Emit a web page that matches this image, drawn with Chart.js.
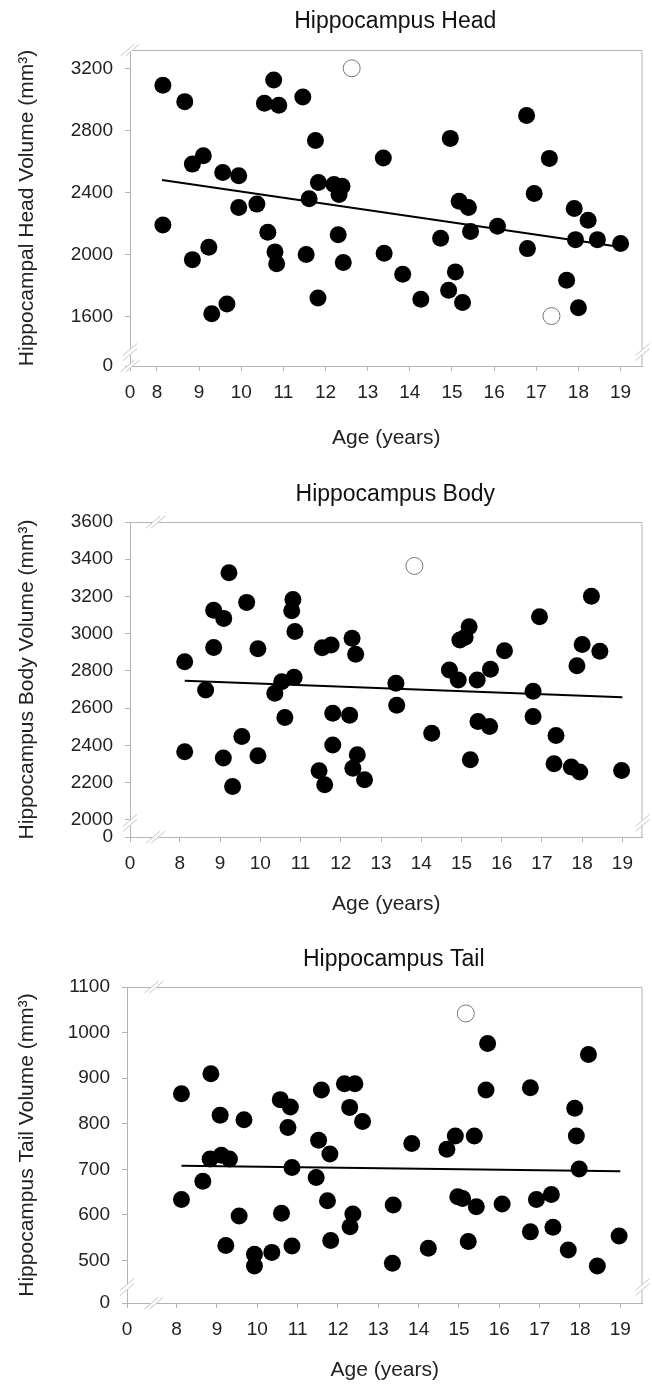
<!DOCTYPE html>
<html>
<head>
<meta charset="utf-8">
<script src="https://cdn.jsdelivr.net/npm/chart.js@4.4.1/dist/chart.umd.min.js"></script>
<style>
  body { margin: 0; background: #fff; }
  canvas { display: block; }
</style>
</head>
<body>
<canvas id="head" width="652" height="460"></canvas>
<canvas id="body" width="652" height="460"></canvas>
<canvas id="tail" width="652" height="464"></canvas>
<script>
// ages shown on the x axis (a "0" is added in front of them at the axis break)
var ageTicks = [8, 9, 10, 11, 12, 13, 14, 15, 16, 17, 18, 19]

// Hippocampus head
var headAge = [8.14, 8.14, 8.66, 8.84, 9.10, 8.84, 9.23, 9.30, 9.56, 9.66, 9.94, 9.94, 10.37, 10.63, 10.55, 10.89, 10.77, 10.80, 10.84,
  11.46, 11.54, 11.61, 11.76, 11.83, 11.82, 12.20, 12.32, 12.39, 12.30, 12.42, 13.37, 13.39, 13.83, 14.26, 14.73, 14.96, 14.92,
  15.08, 15.25, 15.17, 15.39, 15.44, 16.08, 16.77, 16.79, 16.95, 17.31, 17.72, 17.90, 17.93, 18.00, 18.23, 18.45, 19.00]
var headVol = [3090, 2190, 2985, 2582, 2636, 1966, 2046, 1617, 2528, 1680, 2507, 2302, 2324, 2143, 2974, 2961, 3125, 2016, 1940,
  3015, 1999, 2358, 2735, 2464, 1719, 2451, 2386, 2440, 2126, 1947, 2621, 2007, 1872, 1710, 2104, 2748, 1768,
  1887, 1689, 2343, 2302, 2147, 2182, 2896, 2037, 2393, 2619, 1833, 2296, 2095, 1656, 2220, 2095, 2070]
var headOutAge = [12.62, 17.36]
var headOutVol = [3200, 1602]
var headTrendAge = [8.12, 19.0]
var headTrendVol = [2479, 2048]
var headTicks = [1600, 2000, 2400, 2800, 3200]

// Hippocampus body
var bodyAge = [8.12, 8.12, 8.64, 8.84, 8.84, 9.09, 9.22, 9.08, 9.31, 9.54, 9.66, 9.94, 9.94, 10.36, 10.53, 10.61, 10.81, 10.78, 10.86, 10.84,
  11.46, 11.60, 11.54, 11.76, 11.80, 11.80, 12.22, 12.28, 12.37, 12.30, 12.41, 12.59, 13.37, 13.39, 14.26, 14.70, 14.92, 14.96,
  15.09, 15.19, 15.22, 15.39, 15.41, 15.70, 15.72, 16.07, 16.78, 16.78, 16.94, 17.35, 17.30, 17.73, 17.94, 17.87, 18.00, 18.23, 18.44, 18.98]
var bodyVol = [2849, 2365, 2697, 3126, 2926, 3082, 3327, 2331, 2179, 2447, 3168, 2919, 2344, 2680, 2742, 2549, 3184, 3123, 3012, 2765,
  2263, 2188, 2924, 2939, 2572, 2401, 2562, 2975, 2889, 2277, 2349, 2215, 2733, 2615, 2465, 2805, 2751, 2966,
  2980, 3037, 2322, 2751, 2528, 2501, 2808, 2908, 2690, 2554, 3091, 2453, 2301, 2283, 2256, 2828, 2942, 3201, 2905, 2265]
var bodyOutAge = [13.83]
var bodyOutVol = [3364]
var bodyTrendAge = [8.12, 19.0]
var bodyTrendVol = [2747, 2658]
var bodyTicks = [2000, 2200, 2400, 2600, 2800, 3000, 3200, 3400, 3600]

// Hippocampus tail
var tailAge = [8.12, 8.12, 8.65, 8.85, 8.83, 9.08, 9.11, 9.31, 9.22, 9.55, 9.67, 9.93, 9.93, 10.36, 10.57, 10.82, 10.76, 10.60, 10.86, 10.86,
  11.46, 11.52, 11.59, 11.80, 11.74, 11.82, 12.16, 12.42, 12.29, 12.37, 12.30, 12.61, 13.37, 13.35, 13.83, 14.24, 14.70, 14.91,
  14.97, 15.09, 15.38, 15.43, 15.23, 15.71, 15.67, 16.07, 16.77, 16.77, 16.92, 17.29, 17.33, 17.71, 17.87, 17.91, 17.98, 18.21, 18.43, 18.97]
var tailVol = [866, 634, 674, 910, 723, 819, 731, 723, 533, 598, 809, 514, 488, 518, 853, 837, 792, 604, 704, 532,
  682, 764, 874, 734, 631, 544, 888, 888, 836, 602, 574, 805, 622, 494, 757, 527, 744, 773,
  640, 636, 773, 618, 542, 976, 874, 624, 879, 563, 634, 645, 573, 523, 834, 773, 701, 952, 488, 554]
var tailOutAge = [15.17]
var tailOutVol = [1042]
var tailTrendAge = [8.12, 19.0]
var tailTrendVol = [708, 696]
var tailTicks = [500, 600, 700, 800, 900, 1000, 1100]

Chart.defaults.font.family = "'Liberation Sans', Arial, sans-serif"
Chart.defaults.color = '#222'

var axisGrey = '#b4b4b4'

// title over the plot, top/right frame, and the little // marks of the broken axes
var framePlugin = {
  id: 'frame',
  afterDraw(chart, args, opts) {
    var ctx = chart.ctx
    var a = chart.chartArea
    var xb = chart.scales.x.getPixelForValue(opts.xBreak)
    var yb = chart.scales.y.getPixelForValue(opts.yBreak)
    ctx.save()

    ctx.fillStyle = '#111'
    ctx.font = "23px 'Liberation Sans', Arial, sans-serif"
    ctx.textAlign = 'center'
    ctx.textBaseline = 'middle'
    ctx.fillText(opts.title, (a.left + a.right) / 2 + 9, opts.titleY)

    ctx.strokeStyle = axisGrey
    ctx.lineWidth = 1
    ctx.beginPath()
    ctx.moveTo(a.left, a.top + 0.5)
    ctx.lineTo(a.right - 0.5, a.top + 0.5)
    ctx.lineTo(a.right - 0.5, a.bottom)
    ctx.stroke()

    var marks = [[a.left, yb, 'v'], [a.right, yb, 'v'], [xb, a.top, 'h'], [xb, a.bottom, 'h']]
    marks.forEach(function (m) {
      var px = m[0], py = m[1], v = m[2] === 'v'
      ctx.strokeStyle = '#fff'
      ctx.lineWidth = 4
      ctx.beginPath()
      if (v) { ctx.moveTo(px, py - 3); ctx.lineTo(px, py + 3) }
      else { ctx.moveTo(px - 3, py); ctx.lineTo(px + 3, py) }
      ctx.stroke()
      ctx.strokeStyle = '#c4c4c4'
      ctx.lineWidth = 1
      ;[-2.5, 2.5].forEach(function (d) {
        var dx = v ? 0 : d, dy = v ? d : 0
        ctx.beginPath()
        ctx.moveTo(px - 7 + dx, py + 6 + dy)
        ctx.lineTo(px + 7 + dx, py - 6 + dy)
        ctx.stroke()
      })
    })
    ctx.restore()
  }
}

function makeChart(id, o) {
  var pts = o.age.map(function (a, i) { return {x: a, y: o.vol[i]} })
  var outs = o.outAge.map(function (a, i) { return {x: a, y: o.outVol[i]} })
  var trend = o.trendAge.map(function (a, i) { return {x: a, y: o.trendVol[i]} })

  return new Chart(document.getElementById(id), {
    type: 'scatter',
    data: {
      datasets: [
        {data: trend, showLine: true, borderColor: '#000', borderWidth: 2, pointRadius: 0, order: 0},
        {data: pts, pointRadius: 8.5, pointBackgroundColor: '#000', pointBorderWidth: 0, order: 1},
        {data: outs, pointRadius: 8.5, pointBackgroundColor: '#fff', pointBorderColor: '#777', pointBorderWidth: 1, order: 2}
      ]
    },
    options: {
      responsive: false,
      animation: false,
      devicePixelRatio: 1,
      layout: {padding: {left: 0, right: 7, top: o.plotTop, bottom: 0}},
      plugins: {
        legend: {display: false},
        tooltip: {enabled: false},
        title: {display: false},
        frame: {xBreak: o.xBreak, yBreak: o.yBreak, title: o.title, titleY: o.titleY}
      },
      scales: {
        x: {
          type: 'linear', min: o.xZero, max: o.xMax,
          afterBuildTicks: function (s) { s.ticks = [o.xZero].concat(ageTicks).map(function (v) { return {value: v} }) },
          afterFit: function (s) { s.height = o.xHeight },
          ticks: {
            autoSkip: false, maxRotation: 0, padding: 10, color: '#222', font: {size: 19},
            callback: function (v) { return v === o.xZero ? '0' : v }
          },
          grid: {drawOnChartArea: false, tickLength: 5, color: axisGrey},
          border: {color: axisGrey},
          title: {display: true, text: 'Age (years)', color: '#222', font: {size: 21}, padding: {top: 0, bottom: o.xTitlePad}}
        },
        y: {
          type: 'linear', min: o.yZero, max: o.yMax,
          afterBuildTicks: function (s) { s.ticks = [o.yZero].concat(o.yTicks).map(function (v) { return {value: v} }) },
          afterFit: function (s) { s.width = o.yWidth },
          ticks: {
            autoSkip: false, padding: 12, color: '#222', font: {size: 19},
            callback: function (v) { return v === o.yZero ? '0' : v }
          },
          grid: {drawOnChartArea: false, tickLength: 5, color: axisGrey},
          border: {color: axisGrey},
          title: {display: true, text: o.yTitle, color: '#222', font: {size: 21}, padding: {top: 15, bottom: 0}}
        }
      }
    },
    plugins: [framePlugin]
  })
}

makeChart('head', {
  title: 'Hippocampus Head', yTitle: 'Hippocampal Head Volume (mm³)',
  age: headAge, vol: headVol, outAge: headOutAge, outVol: headOutVol,
  trendAge: headTrendAge, trendVol: headTrendVol, yTicks: headTicks,
  xZero: 7.36, xMax: 19.52, yZero: 1280, yMax: 3318, xBreak: 7.36, yBreak: 1370,
  yWidth: 130, xHeight: 94, plotTop: 50, titleY: 22, xTitlePad: 9
})

makeChart('body', {
  title: 'Hippocampus Body', yTitle: 'Hippocampus Body Volume (mm³)',
  age: bodyAge, vol: bodyVol, outAge: bodyOutAge, outVol: bodyOutVol,
  trendAge: bodyTrendAge, trendVol: bodyTrendVol, yTicks: bodyTicks,
  xZero: 6.76, xMax: 19.5, yZero: 1907, yMax: 3600, xBreak: 7.4, yBreak: 1983,
  yWidth: 130, xHeight: 83, plotTop: 62, titleY: 35, xTitlePad: 3
})

makeChart('tail', {
  title: 'Hippocampus Tail', yTitle: 'Hippocampus Tail Volume (mm³)',
  age: tailAge, vol: tailVol, outAge: tailOutAge, outVol: tailOutVol,
  trendAge: tailTrendAge, trendVol: tailTrendVol, yTicks: tailTicks,
  xZero: 6.77, xMax: 19.55, yZero: 407, yMax: 1100, xBreak: 7.44, yBreak: 442,
  yWidth: 127, xHeight: 81, plotTop: 67, titleY: 40, xTitlePad: 1
})
</script>
</body>
</html>
